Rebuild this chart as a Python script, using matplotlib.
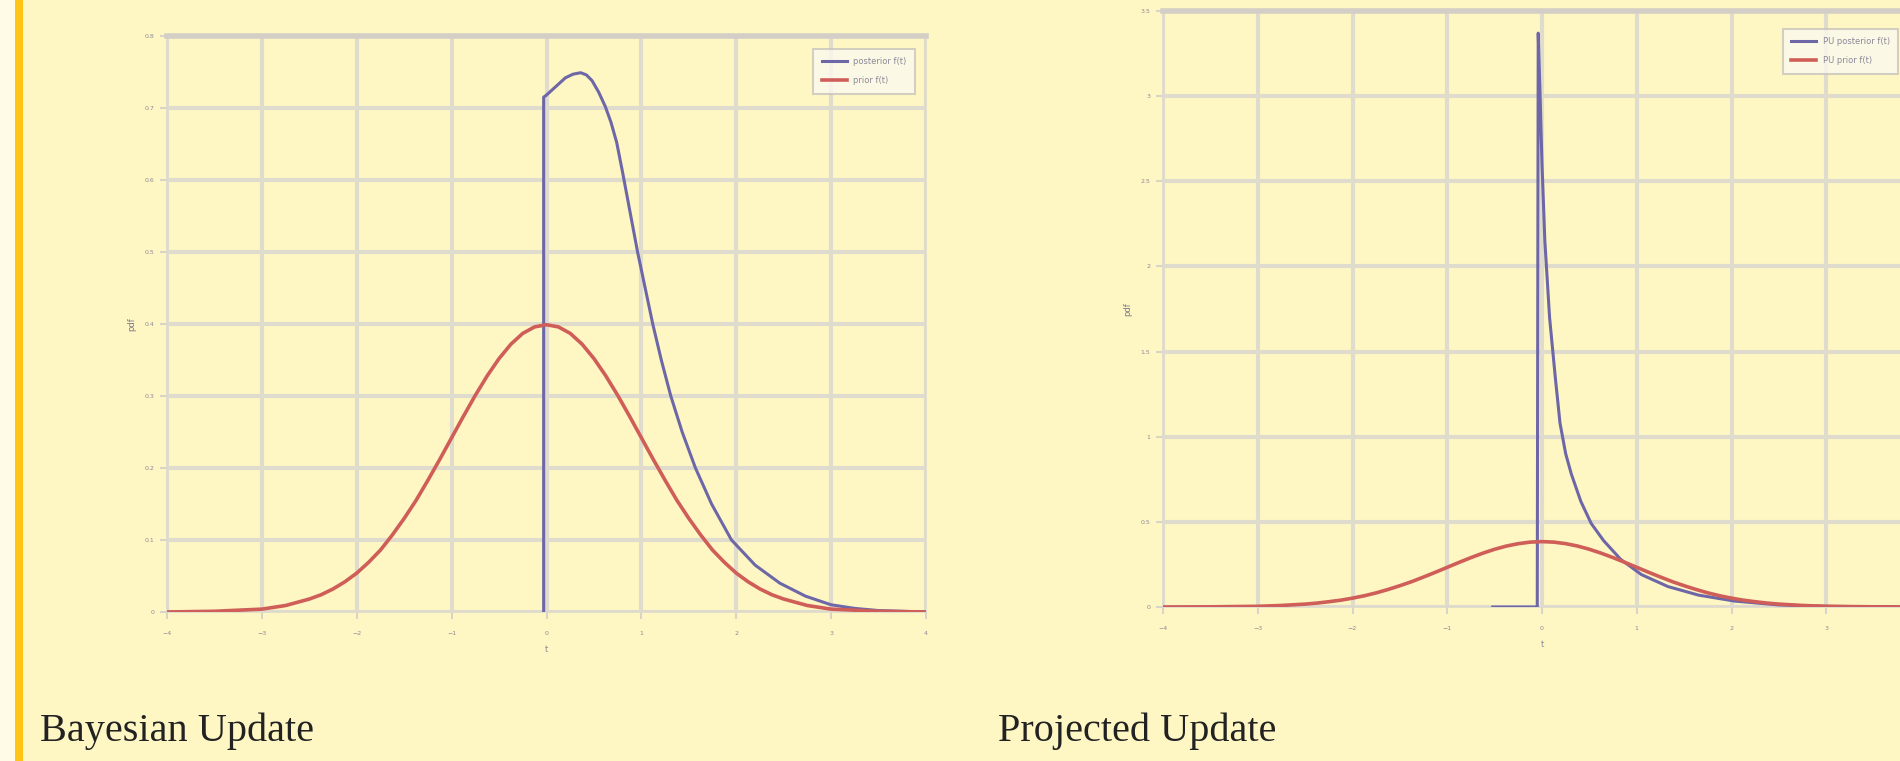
import numpy as np
import matplotlib.pyplot as plt
from matplotlib.patches import Rectangle
from matplotlib.ticker import FormatStrFormatter

# grid of t for the prior curves
t_prior = [-4.0, -3.5, -3.0, -2.75, -2.5, -2.375, -2.25, -2.125, -2.0, -1.875, -1.75,
           -1.625, -1.5, -1.375, -1.25, -1.125, -1.0, -0.875, -0.75, -0.625, -0.5,
           -0.375, -0.25, -0.125, 0.0, 0.125, 0.25, 0.375, 0.5, 0.625, 0.75, 0.875,
           1.0, 1.125, 1.25, 1.375, 1.5, 1.625, 1.75, 1.875, 2.0, 2.125, 2.25, 2.375,
           2.5, 2.75, 3.0, 3.5, 4.0]

# Bayesian update: prior and posterior
bayes_prior = [0.000, 0.001, 0.004, 0.009, 0.018, 0.024, 0.032, 0.042, 0.054, 0.069,
               0.086, 0.107, 0.130, 0.155, 0.183, 0.212, 0.242, 0.272, 0.301, 0.328,
               0.352, 0.372, 0.387, 0.396, 0.399, 0.396, 0.387, 0.372, 0.352, 0.328,
               0.301, 0.272, 0.242, 0.212, 0.183, 0.155, 0.130, 0.107, 0.086, 0.069,
               0.054, 0.042, 0.032, 0.024, 0.018, 0.009, 0.004, 0.001, 0.000]
t_bayes_post = [-0.03, -0.03, 0.0, 0.1, 0.2, 0.28, 0.36, 0.42, 0.48, 0.55, 0.62, 0.68,
                0.74, 0.8, 0.88, 0.96, 1.04, 1.12, 1.21, 1.31, 1.43, 1.57, 1.74, 1.95,
                2.2, 2.46, 2.73, 3.0, 3.25, 3.5, 4.0]
bayes_post = [0.0, 0.715, 0.718, 0.730, 0.742, 0.747, 0.749, 0.746, 0.738, 0.722,
              0.702, 0.680, 0.652, 0.612, 0.556, 0.500, 0.450, 0.400, 0.350, 0.300,
              0.250, 0.200, 0.150, 0.100, 0.065, 0.040, 0.022, 0.010, 0.005, 0.002,
              0.0]

# projected update: prior and posterior
proj_prior = [0.000, 0.001, 0.004, 0.009, 0.017, 0.023, 0.031, 0.040, 0.052, 0.066,
              0.083, 0.103, 0.125, 0.149, 0.176, 0.204, 0.233, 0.262, 0.290, 0.316,
              0.339, 0.358, 0.372, 0.381, 0.384, 0.381, 0.372, 0.358, 0.339, 0.316,
              0.290, 0.262, 0.233, 0.204, 0.176, 0.149, 0.125, 0.103, 0.083, 0.066,
              0.052, 0.040, 0.031, 0.023, 0.017, 0.009, 0.004, 0.001, 0.000]
t_proj_post = [-0.52, -0.05, -0.04, -0.02, 0.0, 0.03, 0.08, 0.14, 0.19, 0.25, 0.31,
               0.41, 0.52, 0.65, 0.83, 1.05, 1.33, 1.65, 2.03, 2.5, 3.0, 3.5, 4.0]
proj_post = [0.0, 0.0, 3.37, 3.0, 2.6, 2.15, 1.7, 1.35, 1.08, 0.9, 0.78, 0.62, 0.49,
             0.39, 0.28, 0.19, 0.12, 0.07, 0.035, 0.012, 0.004, 0.001, 0.0]

bayes_xticks = [-4, -3, -2, -1, 0, 1, 2, 3, 4]
proj_xticks = [-4, -3, -2, -1, 0, 1, 2, 3]
bayes_yticks = [0, 0.1, 0.2, 0.3, 0.4, 0.5, 0.6, 0.7, 0.8]
proj_yticks = [0, 0.5, 1, 1.5, 2, 2.5, 3, 3.5]

BG = '#fff7c3'
BLUE = '#6d67a8'
RED = '#cf5d58'
GRID = '#e0dccd'

fig = plt.figure(figsize=(19, 7.61), dpi=100, facecolor=BG)
fig.patches.append(Rectangle((0, 0), 15 / 1900, 1, transform=fig.transFigure,
                             facecolor='#fffbe6', edgecolor='none', zorder=0))
fig.patches.append(Rectangle((15 / 1900, 0), 8 / 1900, 1, transform=fig.transFigure,
                             facecolor='#ffc414', edgecolor='none', zorder=0))


def panel(rect, t_post, post, prior, xticks, yticks, ymax, labels, leg_anchor):
    ax = fig.add_axes(rect)
    ax.set_facecolor(BG)
    ax.plot(t_post, post, color=BLUE, lw=2.2, label=labels[0], zorder=3)
    ax.plot(t_prior, prior, color=RED, lw=2.6, label=labels[1], zorder=4)
    ax.set_xlim(-4, 4)
    ax.set_ylim(0, ymax)
    ax.set_xticks(xticks)
    ax.set_yticks(yticks)
    ax.yaxis.set_major_formatter(FormatStrFormatter('%g'))
    ax.grid(True, color=GRID, lw=3, zorder=0)
    ax.set_axisbelow(True)
    for side in ['left', 'right', 'bottom']:
        ax.spines[side].set_color('#ddd9cc')
        ax.spines[side].set_linewidth(1.2)
    ax.spines['top'].set_color('#d3cfc6')
    ax.spines['top'].set_linewidth(4)
    ax.tick_params(labelsize=4.5, labelcolor='#8c8898', color='#d8d4c8',
                   length=5, width=1.5)
    ax.tick_params(axis='x', pad=9)
    ax.tick_params(axis='y', pad=4)
    ax.set_xlabel('t', fontsize=6, color='#8c8898', labelpad=6)
    ax.set_ylabel('pdf', fontsize=6, color='#7d7888', labelpad=6)
    leg = ax.legend(loc='upper right', bbox_to_anchor=leg_anchor,
                    bbox_transform=fig.transFigure, borderaxespad=0,
                    fontsize=6, frameon=True, fancybox=False, handlelength=3,
                    borderpad=1.0, labelspacing=1.2)
    leg.get_frame().set_facecolor('#fbfaf0')
    leg.get_frame().set_edgecolor('#c8c4bc')
    leg.get_frame().set_linewidth(1.5)
    for txt in leg.get_texts():
        txt.set_color('#8c8898')
    return ax


panel([167 / 1900, 149 / 761, 759 / 1900, 576 / 761], t_bayes_post, bayes_post,
      bayes_prior, bayes_xticks, bayes_yticks, 0.8,
      ['posterior f(t)', 'prior f(t)'], (915 / 1900, 1 - 49 / 761))
panel([1163 / 1900, 154 / 761, 758 / 1900, 596 / 761], t_proj_post, proj_post,
      proj_prior, proj_xticks, proj_yticks, 3.5,
      ['PU posterior f(t)', 'PU prior f(t)'], (1898 / 1900, 1 - 29 / 761))

fig.text(40 / 1900, 1 - 741 / 761, 'Bayesian Update', fontsize=29,
         family='Liberation Serif', color='#222222', va='baseline')
fig.text(998 / 1900, 1 - 741 / 761, 'Projected Update', fontsize=29,
         family='Liberation Serif', color='#222222', va='baseline')

fig.savefig('out.png', dpi=100, facecolor=BG)
